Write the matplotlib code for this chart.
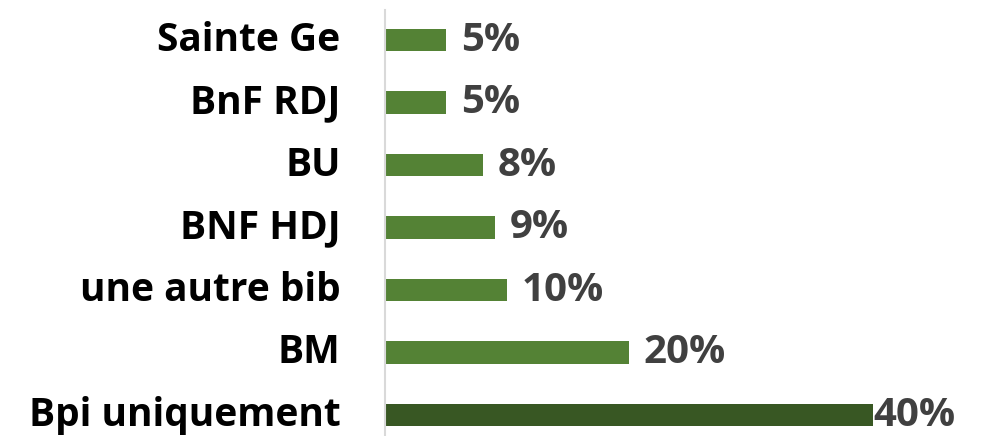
import matplotlib
matplotlib.use("Agg")
import matplotlib.pyplot as plt

categories = ["Bpi uniquement", "BM", "une autre bib", "BNF HDJ", "BU", "BnF RDJ", "Sainte Ge"]
values = [40, 20, 10, 9, 8, 5, 5]
labels = ["40%", "20%", "10%", "9%", "8%", "5%", "5%"]

light_green = "#548235"
dark_green = "#385723"
text_grey = "#404040"

plt.rcParams["font.family"] = ["Open Sans", "DejaVu Sans"]

fig = plt.figure(figsize=(9.87, 4.36), dpi=100)
ax = fig.add_axes([385 / 987, 0.0, 602 / 987, 426 / 436])

colors = [dark_green] + [light_green] * (len(values) - 1)
ypos = list(range(len(categories)))
ax.barh(ypos, values, height=0.36, color=colors)

ax.set_xlim(0, 602 / 12.2)
ax.set_ylim(-0.336, 6.48)

for y, v, lab in zip(ypos, values, labels):
    off = 0.0 if v == max(values) else 1.2
    ax.text(v + off, y, lab, va="center", ha="left", fontsize=29,
            fontweight="bold", color=text_grey)

ax.set_yticks(ypos)
ax.set_yticklabels(categories, fontsize=28, fontweight="bold", color="black",
                   va="center")
ax.tick_params(axis="y", length=0, pad=32)
ax.set_xticks([])

for s in ["top", "right", "bottom"]:
    ax.spines[s].set_visible(False)
ax.spines["left"].set_color("#d9d9d9")
ax.spines["left"].set_linewidth(1.5)

fig.savefig("out.png", dpi=100)
